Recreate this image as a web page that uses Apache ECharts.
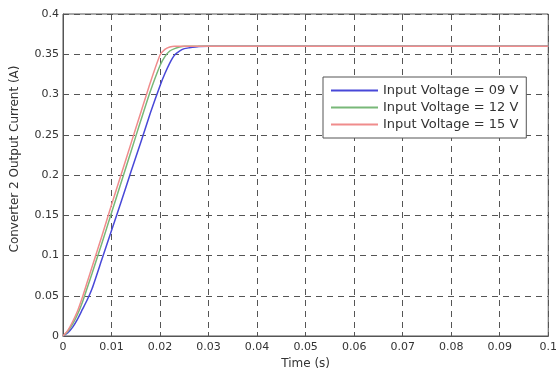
<!DOCTYPE html>
<html>
<head>
<meta charset="utf-8">
<script src="https://cdn.jsdelivr.net/npm/echarts@6/dist/echarts.min.js"></script>
<style>html,body{margin:0;padding:0;background:#fff}#c{width:560px;height:375px}</style>
</head>
<body>
<div id="c"></div>
<script>
var timeS = [0, 0.001, 0.002, 0.003, 0.004, 0.005, 0.006, 0.008, 0.010, 0.012, 0.014, 0.016, 0.018, 0.020, 0.021, 0.022, 0.023, 0.024, 0.025, 0.026, 0.028, 0.030, 0.1];
var current09V = [0, 0.004, 0.011, 0.021, 0.033, 0.045, 0.059, 0.095, 0.131, 0.167, 0.204, 0.240, 0.277, 0.311, 0.326, 0.339, 0.349, 0.354, 0.357, 0.358, 0.3595, 0.36, 0.36];
var current12V = [0, 0.006, 0.015, 0.027, 0.042, 0.060, 0.078, 0.115, 0.153, 0.191, 0.229, 0.267, 0.304, 0.336, 0.347, 0.354, 0.357, 0.359, 0.36, 0.36, 0.36, 0.36, 0.36];
var current15V = [0, 0.007, 0.018, 0.031, 0.048, 0.067, 0.086, 0.124, 0.163, 0.201, 0.239, 0.277, 0.315, 0.349, 0.356, 0.359, 0.36, 0.36, 0.36, 0.36, 0.36, 0.36, 0.36];
var seriesNames = ['Input Voltage = 09 V', 'Input Voltage = 12 V', 'Input Voltage = 15 V'];
var seriesColors = ['#4848d8', '#78b878', '#f08c8c'];
var xAxisTitle = 'Time (s)';
var yAxisTitle = 'Converter 2 Output Current (A)';

function pairs(vals) { return timeS.map(function (t, i) { return [t, vals[i]]; }); }
function fmt(v) { return String(parseFloat(v.toFixed(3))); }

var chart = echarts.init(document.getElementById('c'), null, { renderer: 'canvas' });
var font = 'DejaVu Sans, sans-serif';
var gridLine = { show: true, lineStyle: { color: '#555', type: [6, 5], width: 1 } };
var tickIn = { show: true, inside: true, length: 4, lineStyle: { color: '#555' } };
chart.setOption({
  animation: false,
  backgroundColor: '#fff',
  grid: { left: 63, right: 9, top: 14, bottom: 36, show: true, borderColor: '#555', borderWidth: 1, containLabel: false },
  legend: {
    orient: 'vertical', left: 323, top: 77,
    data: seriesNames,
    icon: 'rect', itemWidth: 47, itemHeight: 2, itemGap: 4,
    backgroundColor: '#fff', borderColor: '#555', borderWidth: 1,
    padding: [7, 8, 7, 8],
    textStyle: { fontFamily: font, fontSize: 13, color: '#333' }
  },
  graphic: [{
    type: 'text', x: 15, y: 159, rotation: Math.PI / 2,
    style: { text: yAxisTitle, fontFamily: font, fontSize: 12, fill: '#333', align: 'center', verticalAlign: 'middle' }
  }],
  xAxis: {
    type: 'value', min: 0, max: 0.1, interval: 0.01,
    name: xAxisTitle, nameLocation: 'middle', nameGap: 22,
    nameTextStyle: { fontFamily: font, fontSize: 12, color: '#333' },
    axisLine: { show: true, lineStyle: { color: '#555' } },
    axisTick: tickIn,
    axisLabel: { fontFamily: font, fontSize: 11, color: '#333', margin: 6, formatter: fmt },
    splitLine: gridLine
  },
  yAxis: {
    type: 'value', min: 0, max: 0.4, interval: 0.05,
    axisLine: { show: true, lineStyle: { color: '#555' } },
    axisTick: tickIn,
    axisLabel: { fontFamily: font, fontSize: 11, color: '#333', margin: 4, formatter: fmt },
    splitLine: gridLine
  },
  series: [
    { name: seriesNames[0], type: 'line', data: pairs(current09V), showSymbol: false, smooth: 0.2, lineStyle: { width: 1.5, color: seriesColors[0] }, itemStyle: { color: seriesColors[0] } },
    { name: seriesNames[1], type: 'line', data: pairs(current12V), showSymbol: false, smooth: 0.2, lineStyle: { width: 1.5, color: seriesColors[1] }, itemStyle: { color: seriesColors[1] } },
    { name: seriesNames[2], type: 'line', data: pairs(current15V), showSymbol: false, smooth: 0.2, lineStyle: { width: 1.5, color: seriesColors[2] }, itemStyle: { color: seriesColors[2] } }
  ]
});
</script>
</body>
</html>
